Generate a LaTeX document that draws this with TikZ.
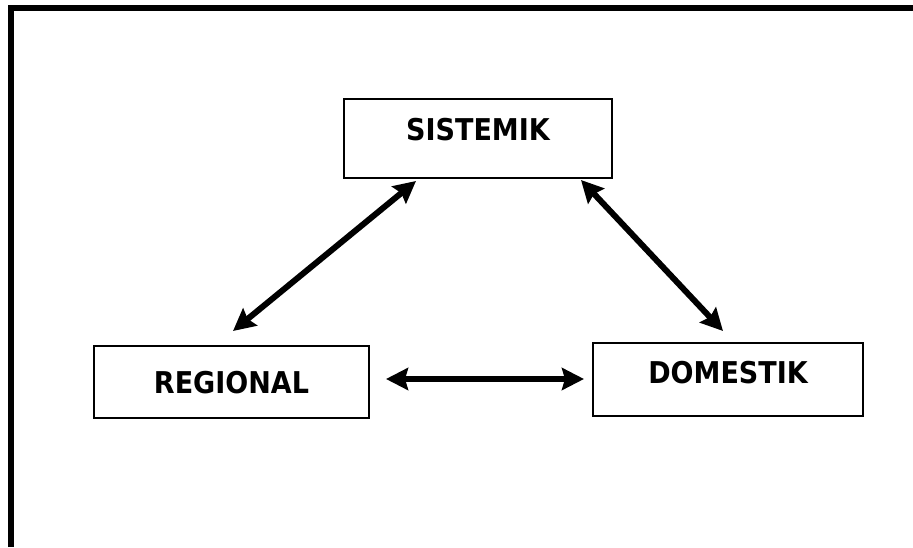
\documentclass[tikz,border=0pt]{standalone}
\usepackage{fontspec}
\setmainfont{DejaVu Sans Condensed}
\usetikzlibrary{positioning}
\usetikzlibrary{arrows.meta}
\tikzstyle{level} = [rectangle, draw=black, line width=2pt, font=\bfseries\fontsize{30}{33}\selectfont, text height=22pt, text depth=0pt, inner sep=0pt]
\tikzstyle{arrow} = [line width=6pt, {Stealth[length=22pt,width=22pt,inset=3pt]}-{Stealth[length=22pt,width=22pt,inset=3pt]}]

\begin{document}
\begin{tikzpicture}[x=1pt, y=1pt]
        \useasboundingbox (0,0) rectangle (913,547);
        \draw [line width=6pt] (10.5,0) -- (10.5,539) -- (913,539);
        \node (sis) [level, minimum width=268pt, minimum height=79pt, text depth=18pt] at (478,408.5) {SISTEMIK};
        \node (reg) [level, minimum width=275pt, minimum height=72pt] at (231.5,165) {REGIONAL};
        \node (dom) [level, minimum width=270pt, minimum height=73pt, text depth=14pt] at (728,167.5) {DOMESTIK};
        \draw [arrow] ([xshift=73pt, yshift=-2pt]sis.south west) -- ([xshift=1.5pt, yshift=14pt]reg.north);
        \draw [arrow] ([xshift=-32pt, yshift=-1pt]sis.south east) -- ([xshift=-5pt, yshift=11pt]dom.north);
        \draw [arrow] ([xshift=16pt, yshift=3pt]reg.east) -- ([xshift=-8pt, yshift=0.5pt]dom.west);
    \end{tikzpicture}
\end{document}
